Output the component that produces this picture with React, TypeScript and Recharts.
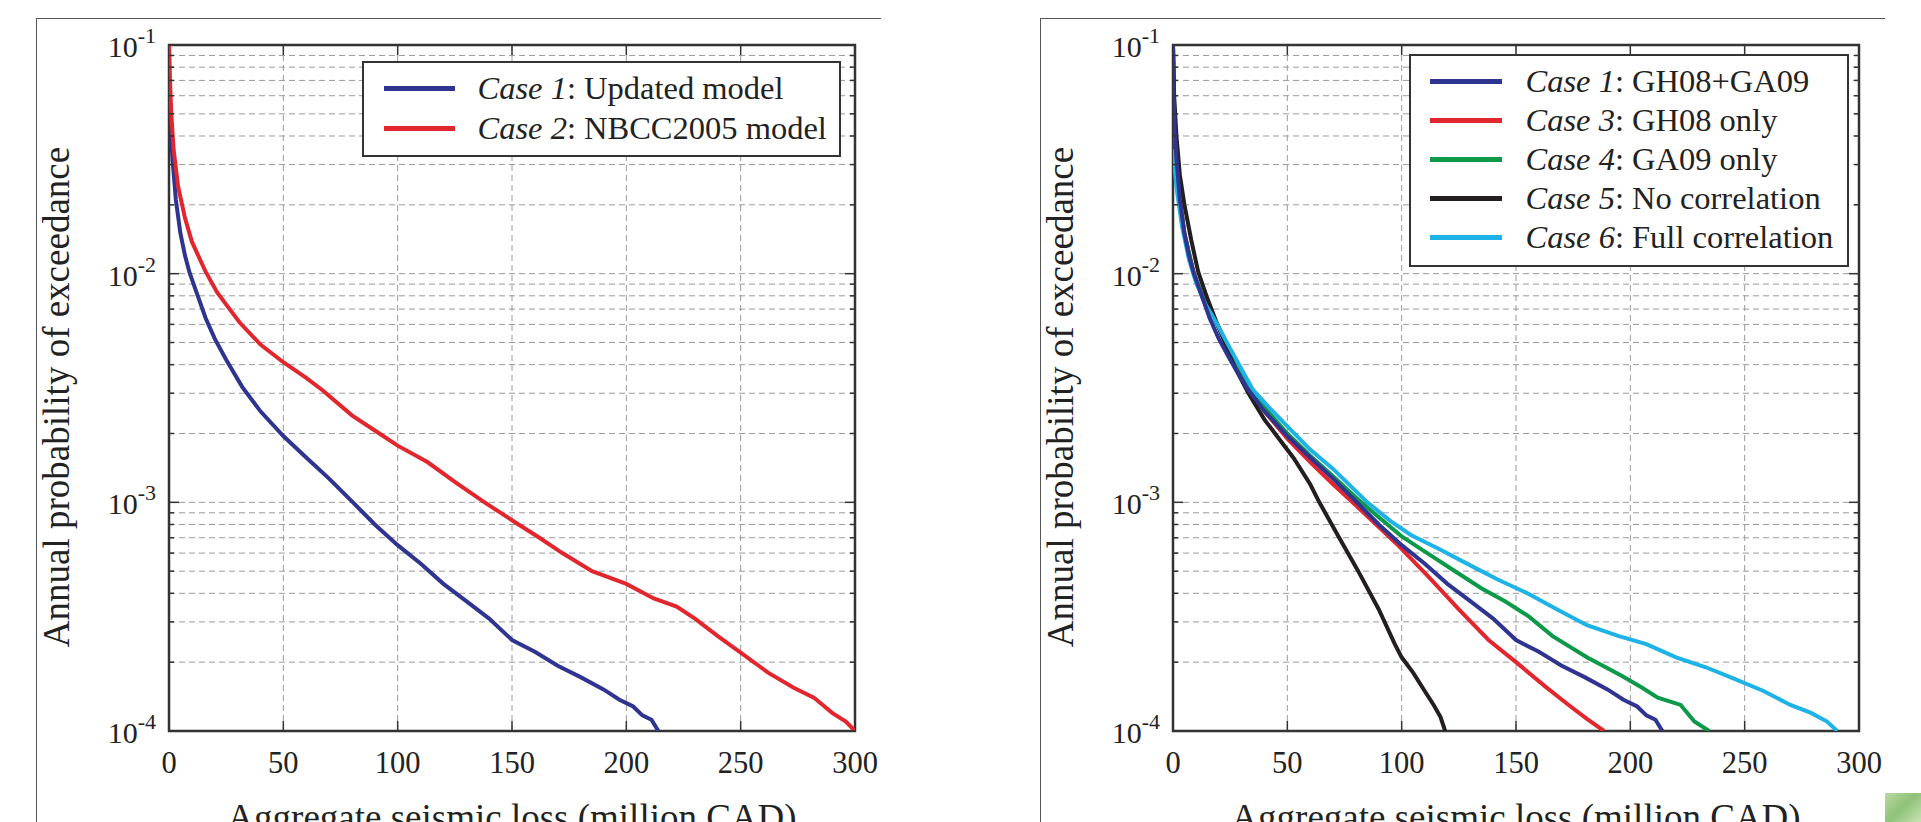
import React from "react";
import { LineChart, Line, XAxis, YAxis, CartesianGrid, ReferenceArea, Legend } from "recharts";

// loss in million CAD (v) vs annual probability of exceedance (p)
const LOSS_TICKS = [0, 50, 100, 150, 200, 250, 300];
const PROB_TICKS = [
  0.0001, 0.0002, 0.0003, 0.0004, 0.0005, 0.0006, 0.0007, 0.0008, 0.0009,
  0.001, 0.002, 0.003, 0.004, 0.005, 0.006, 0.007, 0.008, 0.009,
  0.01, 0.02, 0.03, 0.04, 0.05, 0.06, 0.07, 0.08, 0.09, 0.1,
];

const case1 = [
  { v: 0, p: 0.1 }, { v: 0.3, p: 0.06 }, { v: 0.8, p: 0.042 }, { v: 1.5, p: 0.032 },
  { v: 3, p: 0.021 }, { v: 5, p: 0.015 }, { v: 7, p: 0.012 }, { v: 9, p: 0.0101 },
  { v: 12, p: 0.0083 }, { v: 16, p: 0.0064 }, { v: 20, p: 0.0052 }, { v: 25, p: 0.0042 },
  { v: 32, p: 0.0032 }, { v: 40, p: 0.0025 }, { v: 50, p: 0.00195 }, { v: 60, p: 0.00157 },
  { v: 70, p: 0.00127 }, { v: 80, p: 0.00101 }, { v: 90, p: 0.0008 }, { v: 100, p: 0.00065 },
  { v: 110, p: 0.00054 }, { v: 120, p: 0.00044 }, { v: 130, p: 0.00037 }, { v: 140, p: 0.00031 },
  { v: 150, p: 0.00025 }, { v: 160, p: 0.000222 }, { v: 170, p: 0.000193 }, { v: 180, p: 0.000172 },
  { v: 190, p: 0.000152 }, { v: 197, p: 0.000137 }, { v: 203, p: 0.000128 }, { v: 207, p: 0.000117 },
  { v: 211, p: 0.000112 }, { v: 214, p: 0.0001 },
];

const case2 = [
  { v: 0, p: 0.1 }, { v: 0.3, p: 0.075 }, { v: 1, p: 0.05 }, { v: 2, p: 0.035 },
  { v: 4, p: 0.024 }, { v: 7, p: 0.0175 }, { v: 10, p: 0.0138 }, { v: 16, p: 0.0102 },
  { v: 21, p: 0.0083 }, { v: 26, p: 0.0071 }, { v: 31, p: 0.0061 }, { v: 40, p: 0.0049 },
  { v: 50, p: 0.0041 }, { v: 60, p: 0.0035 }, { v: 67, p: 0.0031 }, { v: 80, p: 0.0024 },
  { v: 92, p: 0.002 }, { v: 100, p: 0.00177 }, { v: 113, p: 0.0015 }, { v: 125, p: 0.00123 },
  { v: 138, p: 0.001 }, { v: 152, p: 0.00081 }, { v: 162, p: 0.0007 }, { v: 172, p: 0.0006 },
  { v: 185, p: 0.0005 }, { v: 200, p: 0.00044 }, { v: 212, p: 0.00038 }, { v: 222, p: 0.00035 },
  { v: 230, p: 0.00031 }, { v: 240, p: 0.00026 }, { v: 250, p: 0.00022 }, { v: 262, p: 0.00018 },
  { v: 273, p: 0.000155 }, { v: 282, p: 0.00014 }, { v: 290, p: 0.00012 }, { v: 296, p: 0.00011 },
  { v: 300, p: 0.0001 },
];

const case3 = [
  { v: 0, p: 0.1 }, { v: 0.3, p: 0.06 }, { v: 0.8, p: 0.042 }, { v: 1.5, p: 0.032 },
  { v: 3, p: 0.021 }, { v: 5, p: 0.015 }, { v: 9, p: 0.0101 }, { v: 14, p: 0.0074 },
  { v: 19.4, p: 0.006 }, { v: 25, p: 0.0045 }, { v: 32, p: 0.0033 }, { v: 40, p: 0.0025 },
  { v: 50, p: 0.0019 }, { v: 60, p: 0.0015 }, { v: 70, p: 0.0012 }, { v: 78.5, p: 0.001 },
  { v: 90, p: 0.00078 }, { v: 99, p: 0.00064 }, { v: 112, p: 0.00047 }, { v: 125, p: 0.00034 },
  { v: 138, p: 0.00025 }, { v: 150, p: 0.0002 }, { v: 163, p: 0.000156 }, { v: 173, p: 0.00013 },
  { v: 181, p: 0.000113 }, { v: 188.5, p: 0.0001 },
];

const case4 = [
  { v: 0, p: 0.1 }, { v: 0.3, p: 0.06 }, { v: 0.8, p: 0.042 }, { v: 1.5, p: 0.032 },
  { v: 3, p: 0.021 }, { v: 5, p: 0.015 }, { v: 9, p: 0.0101 }, { v: 14, p: 0.0075 },
  { v: 19.4, p: 0.006 }, { v: 25, p: 0.0046 }, { v: 32, p: 0.0034 }, { v: 40, p: 0.0026 },
  { v: 50, p: 0.002 }, { v: 60, p: 0.0016 }, { v: 70, p: 0.0013 }, { v: 80, p: 0.00105 },
  { v: 90, p: 0.00086 }, { v: 100, p: 0.00071 }, { v: 110, p: 0.00061 }, { v: 122, p: 0.00051 },
  { v: 135, p: 0.00042 }, { v: 145, p: 0.00037 }, { v: 155, p: 0.00032 }, { v: 166, p: 0.00026 },
  { v: 181, p: 0.00021 }, { v: 196, p: 0.000175 }, { v: 205, p: 0.000155 }, { v: 212, p: 0.00014 },
  { v: 222, p: 0.00013 }, { v: 228, p: 0.00011 }, { v: 234.5, p: 0.0001 },
];

const case5 = [
  { v: 0, p: 0.1 }, { v: 0.5, p: 0.06 }, { v: 1.5, p: 0.04 }, { v: 3, p: 0.027 },
  { v: 5, p: 0.02 }, { v: 8, p: 0.014 }, { v: 11, p: 0.0102 }, { v: 15, p: 0.0078 },
  { v: 19.4, p: 0.006 }, { v: 27, p: 0.0039 }, { v: 33, p: 0.003 }, { v: 40, p: 0.0023 },
  { v: 52.8, p: 0.00156 }, { v: 60, p: 0.0012 }, { v: 64, p: 0.001 }, { v: 72, p: 0.00072 },
  { v: 81, p: 0.0005 }, { v: 90, p: 0.00034 }, { v: 97, p: 0.00024 }, { v: 100, p: 0.00021 },
  { v: 105, p: 0.00018 }, { v: 110, p: 0.00015 }, { v: 114, p: 0.00013 }, { v: 117, p: 0.000115 },
  { v: 119, p: 0.0001 },
];

const case6 = [
  { v: 0, p: 0.035 }, { v: 1, p: 0.027 }, { v: 2, p: 0.022 }, { v: 4, p: 0.016 },
  { v: 7, p: 0.0115 }, { v: 10, p: 0.0092 }, { v: 14, p: 0.0074 }, { v: 19.4, p: 0.006 },
  { v: 25, p: 0.0047 }, { v: 35, p: 0.0031 }, { v: 42, p: 0.0026 }, { v: 51, p: 0.0021 },
  { v: 60, p: 0.0017 }, { v: 70, p: 0.0014 }, { v: 85, p: 0.001 }, { v: 95, p: 0.00083 },
  { v: 104, p: 0.00072 }, { v: 117, p: 0.00062 }, { v: 130, p: 0.00053 }, { v: 142, p: 0.00046 },
  { v: 155, p: 0.0004 }, { v: 168, p: 0.00034 }, { v: 181, p: 0.00029 }, { v: 195, p: 0.00026 },
  { v: 207, p: 0.00024 }, { v: 220, p: 0.00021 }, { v: 233, p: 0.00019 }, { v: 245, p: 0.00017 },
  { v: 258, p: 0.00015 }, { v: 270, p: 0.00013 }, { v: 279, p: 0.00012 }, { v: 286, p: 0.00011 },
  { v: 290.5, p: 0.0001 },
];

const BLUE = "#2e3490";
const RED = "#e1262d";
const GREEN = "#0c9a4a";
const BLACK = "#231f20";
const CYAN = "#1db3e6";

const leftSeries = [
  { key: "c1", data: case1, color: BLUE, tag: "Case 1", text: "Updated model" },
  { key: "c2", data: case2, color: RED, tag: "Case 2", text: "NBCC2005 model" },
];

const rightSeries = [
  { key: "c1", data: case1, color: BLUE, tag: "Case 1", text: "GH08+GA09" },
  { key: "c3", data: case3, color: RED, tag: "Case 3", text: "GH08 only" },
  { key: "c4", data: case4, color: GREEN, tag: "Case 4", text: "GA09 only" },
  { key: "c5", data: case5, color: BLACK, tag: "Case 5", text: "No correlation" },
  { key: "c6", data: case6, color: CYAN, tag: "Case 6", text: "Full correlation" },
];
// drawing order in the right panel (blue on top)
const rightOrder = ["c3", "c4", "c5", "c6", "c1"];

const W = 960;
const H = 822;
const PL = 169;
const PR = 855;
const PT = 45;
const PB = 731;
const FONT = "'Liberation Serif', 'Times New Roman', serif";
const INK = "#333";

function XTick(props: any) {
  const { x, payload } = props;
  const inner = payload.value !== 0 && payload.value !== 300;
  return (
    <g>
      {inner && <line x1={x} x2={x} y1={PB} y2={PB - 10} stroke={INK} strokeWidth={1.5} />}
      {inner && <line x1={x} x2={x} y1={PT} y2={PT + 10} stroke={INK} strokeWidth={1.5} />}
      <text x={x} y={PB + 42} textAnchor="middle" fontSize={30.5} fontFamily={FONT} fill="#222">
        {payload.value}
      </text>
    </g>
  );
}

function YTick(props: any) {
  const { y, payload } = props;
  const e = Math.log10(payload.value);
  const major = Math.abs(e - Math.round(e)) < 1e-6;
  const len = major ? 10 : 5;
  return (
    <g>
      <line x1={PL} x2={PL + len} y1={y} y2={y} stroke={INK} strokeWidth={1.5} />
      <line x1={PR - len} x2={PR} y1={y} y2={y} stroke={INK} strokeWidth={1.5} />
      {major && (
        <text x={PL - 13} y={y + 12} textAnchor="end" fontFamily={FONT} fill="#222">
          <tspan fontSize={30}>10</tspan>
          <tspan fontSize={22} dy={-14}>{String(Math.round(e))}</tspan>
        </text>
      )}
    </g>
  );
}

function YTitle() {
  return (
    <text
      x={69}
      y={397}
      transform="rotate(-90 69 397)"
      textAnchor="middle"
      fontSize={37}
      fontFamily={FONT}
      fill="#222"
    >
      Annual probability of exceedance
    </text>
  );
}

function XTitle() {
  return (
    <text x={(PL + PR) / 2} y={830} textAnchor="middle" fontSize={37} fontFamily={FONT} fill="#222">
      Aggregate seismic loss (million CAD)
    </text>
  );
}

type Item = { key: string; color: string; tag: string; text: string };

function LegendBox({ items, width, height, padLeft, lineW, gap, rowH, padTop }: any) {
  return (
    <div
      style={{
        boxSizing: "border-box",
        width,
        height,
        border: `2.5px solid ${INK}`,
        background: "#fff",
        paddingTop: padTop,
        fontFamily: FONT,
        fontSize: 32.5,
        color: "#222",
      }}
    >
      {items.map((it: Item) => (
        <div key={it.key} style={{ display: "flex", alignItems: "center", height: rowH }}>
          <span
            style={{ display: "inline-block", marginLeft: padLeft, width: lineW, height: 5, background: it.color }}
          />
          <span style={{ marginLeft: gap, whiteSpace: "nowrap", lineHeight: 1 }}>
            <i>{it.tag}</i>: {it.text}
          </span>
        </div>
      ))}
    </div>
  );
}

function Panel({ series, order, legend }: any) {
  const ordered = order ? order.map((k: string) => series.find((s: any) => s.key === k)) : series;
  return (
    <LineChart width={W} height={H} margin={{ top: PT, right: W - PR, bottom: H - PB - 30, left: PL - 60 }}>
      <CartesianGrid stroke="#9a9a9a" strokeDasharray="6 4" strokeWidth={1} />
      <XAxis
        type="number"
        dataKey="v"
        domain={[0, 300]}
        ticks={LOSS_TICKS}
        interval={0}
        allowDataOverflow
        axisLine={false}
        tickLine={false}
        height={30}
        tick={XTick}
        label={<XTitle />}
      />
      <YAxis
        type="number"
        scale="log"
        domain={[0.0001, 0.1]}
        ticks={PROB_TICKS}
        interval={0}
        allowDataOverflow
        axisLine={false}
        tickLine={false}
        width={60}
        tick={YTick}
        label={<YTitle />}
      />
      {ordered.map((s: any) => (
        <Line
          key={s.key}
          data={s.data}
          dataKey="p"
          name={s.tag}
          type="linear"
          stroke={s.color}
          strokeWidth={4}
          dot={false}
          activeDot={false}
          isAnimationActive={false}
        />
      ))}
      <ReferenceArea x1={0} x2={300} y1={0.0001} y2={0.1} fill="none" stroke={INK} strokeWidth={2.5} />
      <Legend
        layout="horizontal"
        verticalAlign="middle"
        align="center"
        wrapperStyle={{ left: legend.left, top: legend.top, width: legend.width, height: legend.height }}
        content={() => <LegendBox items={series} {...legend} />}
      />
    </LineChart>
  );
}

export default function App() {
  const frame = (left: number) => ({
    position: "absolute" as const,
    left,
    top: 18,
    width: 845,
    height: 822,
    borderTop: "1.5px solid #555",
    borderLeft: "1.5px solid #555",
    boxSizing: "border-box" as const,
  });
  return (
    <div style={{ position: "relative", width: 1921, height: 822, background: "#fff", overflow: "hidden" }}>
      <style>{`body{margin:0}`}</style>
      <div style={frame(36)} />
      <div style={frame(1040)} />
      <div style={{ position: "absolute", left: 0, top: 0 }}>
        <Panel
          series={leftSeries}
          legend={{ left: 362, top: 61, width: 479, height: 96, padLeft: 19.5, lineW: 71, gap: 23, rowH: 40, padTop: 5.5 }}
        />
      </div>
      <div style={{ position: "absolute", left: 1004, top: 0 }}>
        <Panel
          series={rightSeries}
          order={rightOrder}
          legend={{ left: 405, top: 54, width: 440, height: 213, padLeft: 18.5, lineW: 72, gap: 24, rowH: 39, padTop: 6 }}
        />
      </div>
      <div
        style={{
          position: "absolute",
          left: 1885,
          top: 793,
          width: 36,
          height: 29,
          background: "linear-gradient(135deg, #b9d9a0, #8fc27a 50%, #c8e3b3)",
        }}
      />
    </div>
  );
}
